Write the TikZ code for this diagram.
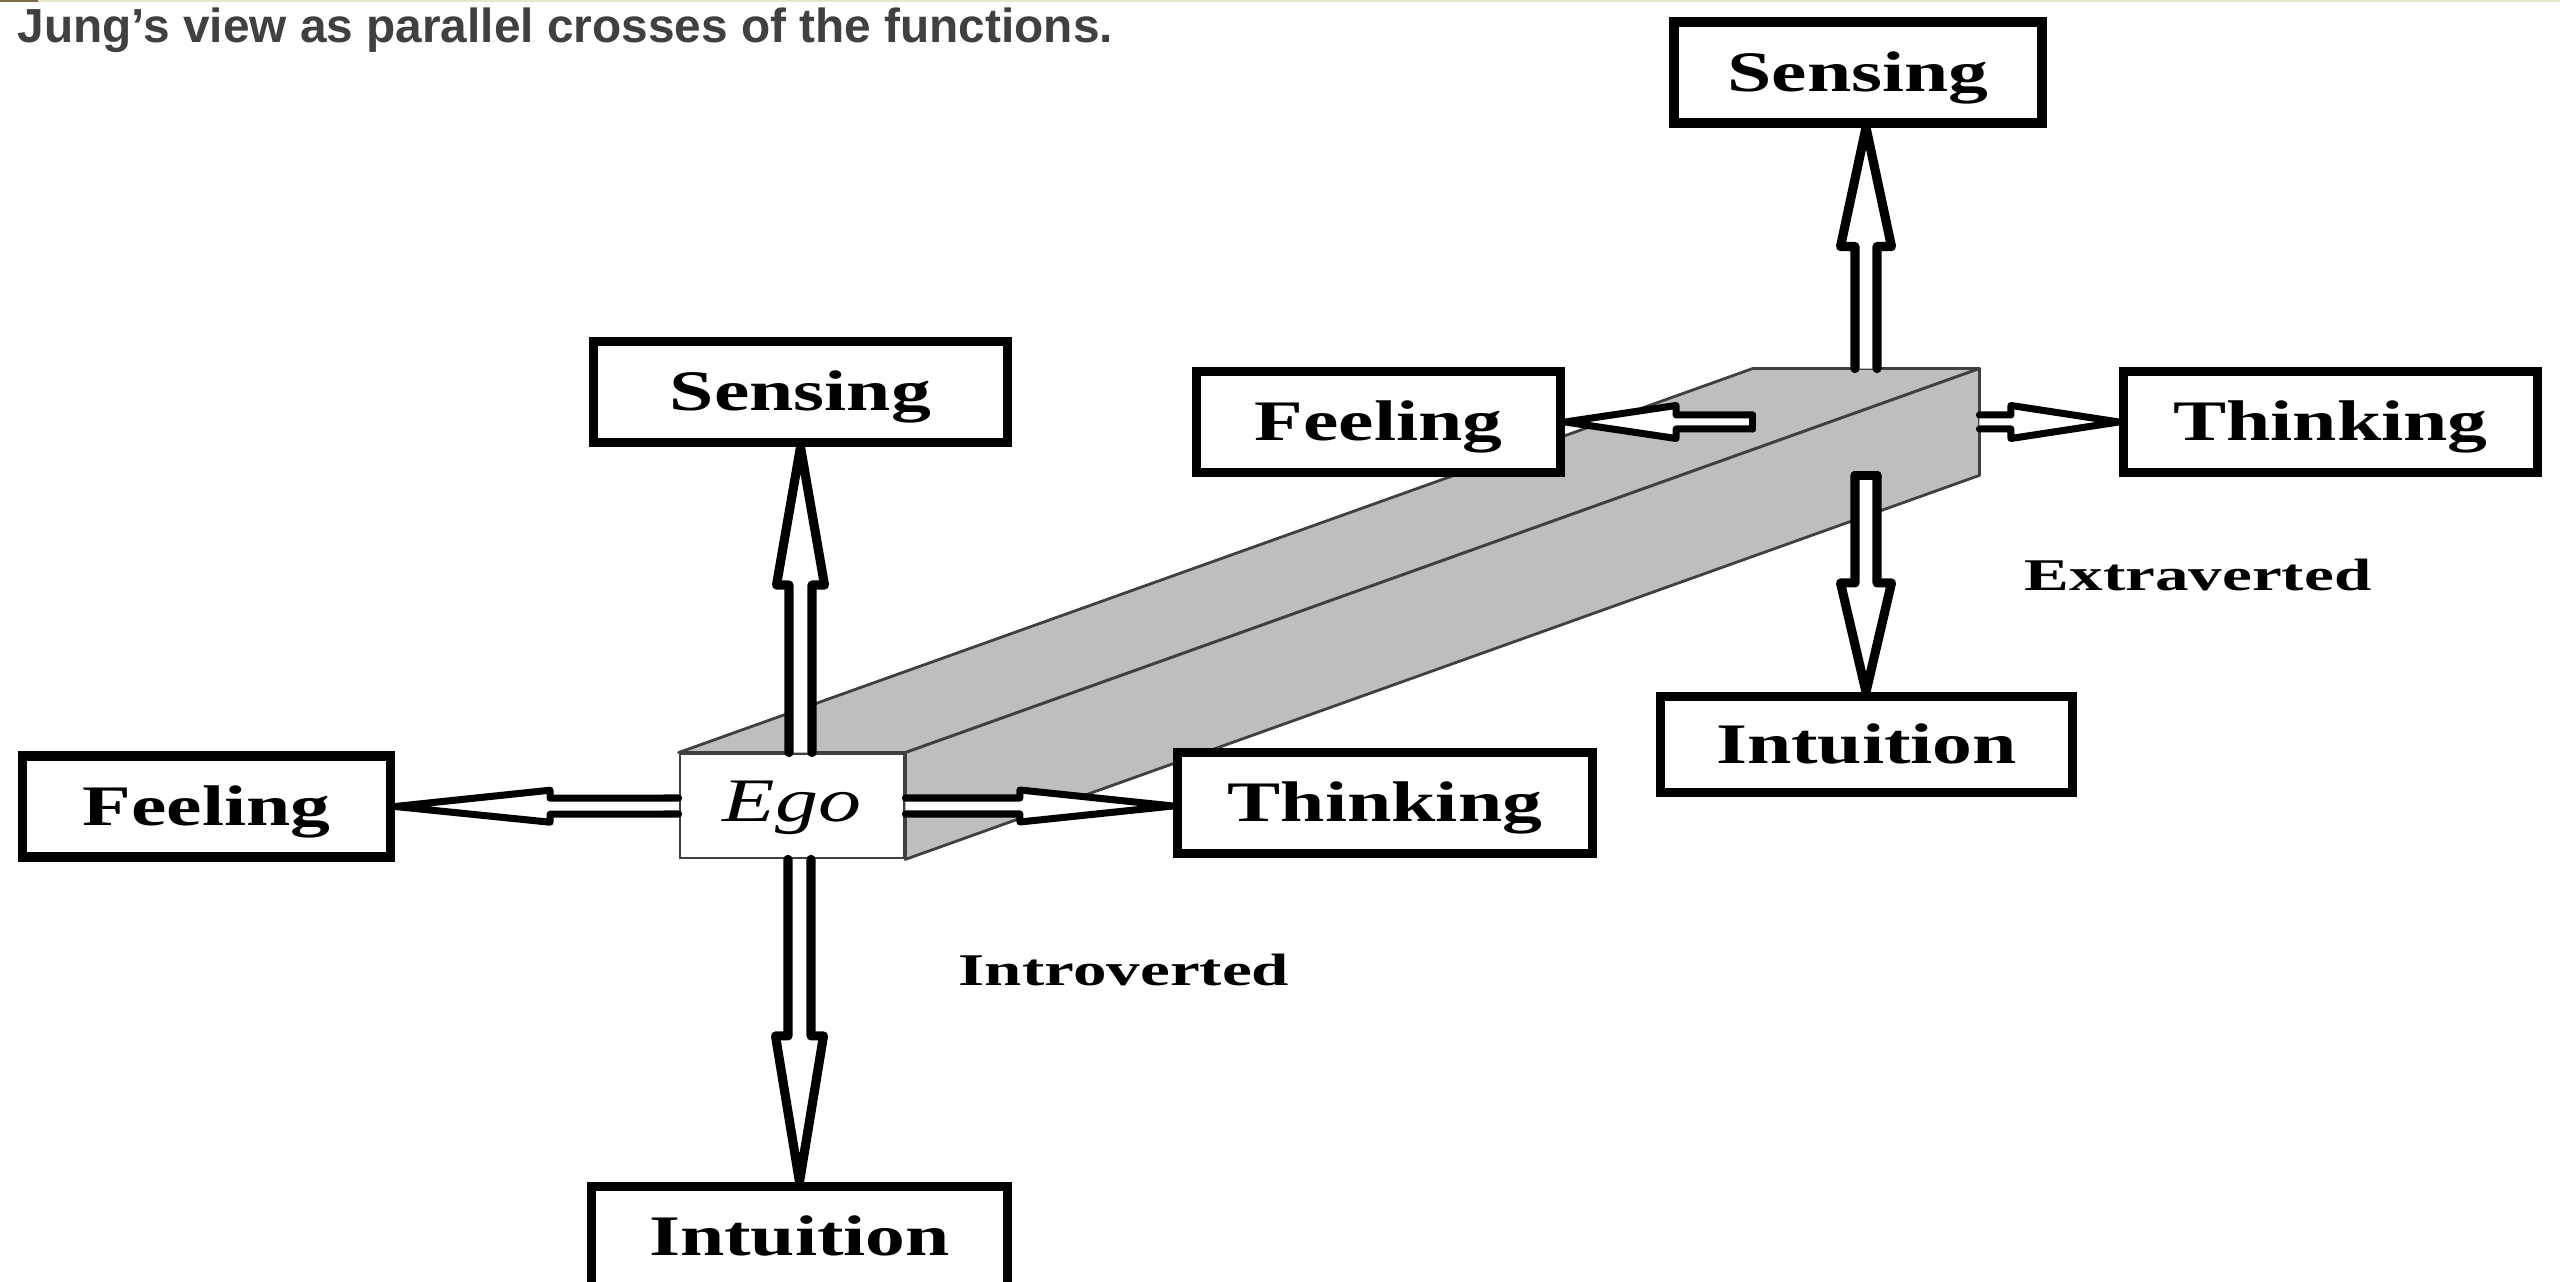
\documentclass[tikz,border=0pt]{standalone}
\usepackage{fontspec}
\setmainfont{Liberation Serif}
\newfontfamily\titlefont{Liberation Sans}
\usepackage{graphicx}
\usepackage{tikz}
\usetikzlibrary{calc,positioning,backgrounds}
\definecolor{bargray}{RGB}{190,190,190}
\definecolor{titlegray}{RGB}{64,64,64}
\definecolor{rulebrown}{RGB}{125,108,70}
\definecolor{rulepale}{RGB}{228,233,200}

% labels are set wider than the font
\newcommand{\widetext}[2]{\scalebox{#1}[1]{#2}}
% hollow arrow: style, from, to, shaft half width, head half width, head length
\newcommand{\hollowarrow}[6]{%
  \coordinate (hb) at ($(#3)!#6!(#2)$);
  \fill[white] ($(#2)!#4!90:(#3)$) -- ($(hb)!#4!90:(#3)$) -- ($(hb)!#5!90:(#3)$) -- (#3)
    -- ($(hb)!#5!-90:(#3)$) -- ($(hb)!#4!-90:(#3)$) -- ($(#2)!#4!-90:(#3)$) -- cycle;
  \draw[#1] ($(#2)!#4!90:(#3)$) -- ($(hb)!#4!90:(#3)$) -- ($(hb)!#5!90:(#3)$) -- (#3)
    -- ($(hb)!#5!-90:(#3)$) -- ($(hb)!#4!-90:(#3)$) -- ($(#2)!#4!-90:(#3)$);
}

\begin{document}
\begin{tikzpicture}
    \tikzstyle{fbox} = [draw=black, line width=2.6pt, fill=white, minimum height=1.01cm, inner sep=0pt, text height=0.38cm, text depth=0cm, font=\fontsize{16.3}{18}\selectfont\bfseries]
    \tikzstyle{ebox} = [draw=black!75, line width=0.8pt, fill=white, minimum width=2.24cm, minimum height=1.04cm, inner sep=0pt, text height=0.41cm, text depth=0.1cm, font=\fontsize{17.6}{20}\selectfont\itshape]
    \tikzstyle{tag} = [inner sep=0pt, font=\fontsize{12.9}{15}\selectfont\bfseries]
    \tikzstyle{vfat} = [line width=2.6pt, line join=round, line cap=round]
    \tikzstyle{hfat} = [line width=2.0pt, line join=round, line cap=round]
    \tikzstyle{edge} = [draw=black!75, line width=0.8pt, fill=bargray, line join=round]

    \useasboundingbox (0,0) rectangle (25.6,12.82);
    \fill[rulebrown] (0,12.80) rectangle (0.38,12.82);
    \fill[rulepale] (0.38,12.80) rectangle (25.6,12.82);

    \node[anchor=base west, inner sep=0pt, text=titlegray, font=\titlefont\fontsize{13.6}{16}\selectfont\bfseries] (title) at (0.17,12.39) {Jung’s view as parallel crosses of the functions.};

    % introverted cross
    \node[ebox] (ego) at (7.92,4.76) {\widetext{1.39}{Ego}};
    \node[fbox, minimum width=4.14cm] (sensL) at (8.005,8.90) {\widetext{1.39}{Sensing}};
    \node[fbox, minimum width=3.68cm] (feelL) at (2.065,4.755) {\widetext{1.39}{Feeling}};
    \node[fbox, minimum width=4.15cm] (thinkM) at (13.85,4.79) {\widetext{1.39}{Thinking}};
    \node[fbox, minimum width=4.16cm] (intuL) at (7.995,0.45) {\widetext{1.39}{Intuition}};
    \node[tag] (intro) at (11.24,3.12) {\widetext{1.48}{Introverted}};

    % extraverted cross
    \node[fbox, minimum width=3.68cm] (sensR) at (18.58,12.095) {\widetext{1.39}{Sensing}};
    \node[fbox, minimum width=3.64cm] (feelR) at (13.785,8.60) {\widetext{1.39}{Feeling}};
    \node[fbox, minimum width=4.14cm] (thinkR) at (23.305,8.60) {\widetext{1.39}{Thinking}};
    \node[fbox, minimum width=4.12cm, minimum height=0.96cm] (intuR) at (18.665,5.375) {\widetext{1.39}{Intuition}};
    \node[tag] (extra) at (21.98,7.07) {\widetext{1.48}{Extraverted}};

    % the bar
    \coordinate (rc) at ($(ego)+(10.74,3.84)$);
    \coordinate (bnw) at ($(ego.north west)+(10.74,3.84)$);
    \coordinate (bne) at ($(ego.north east)+(10.74,3.84)$);
    \coordinate (bse) at ($(ego.south east)+(10.74,3.84)$);
    \begin{pgfonlayer}{background}
      \draw[edge] (ego.north west) -- (bnw) -- (bne) -- (ego.north east) -- cycle;
      \draw[edge] (ego.north east) -- (bne) -- (bse) -- (ego.south east) -- cycle;
    \end{pgfonlayer}

    % arrows of the introverted cross
    \coordinate (lup) at (sensL.south |- ego.north);
    \coordinate (ldn) at (intuL.north |- ego.south);
    \coordinate (lrt) at (thinkM.west |- ego.east);
    \hollowarrow{vfat}{lup}{sensL.south}{0.115cm}{0.24cm}{1.38cm}
    \hollowarrow{vfat}{ldn}{intuL.north}{0.115cm}{0.24cm}{1.46cm}
    \hollowarrow{hfat}{ego.west}{feelL.east}{0.08cm}{0.16cm}{1.55cm}
    \hollowarrow{hfat}{ego.east}{lrt}{0.08cm}{0.16cm}{1.53cm}

    % arrows of the extraverted cross
    \coordinate (rup) at (rc |- bnw);
    \coordinate (rdn) at (rc |- bse);
    \coordinate (rlf) at (bnw |- rc);
    \coordinate (rrt) at (bne |- rc);
    \coordinate (rupt) at (rc |- sensR.south);
    \coordinate (rdnt) at (rc |- intuR.north);
    \coordinate (rlft) at (feelR.east |- rc);
    \coordinate (rrtt) at (thinkR.west |- rc);
    \hollowarrow{vfat}{rup}{rupt}{0.11cm}{0.255cm}{1.19cm}
    \hollowarrow{vfat}{rdn}{rdnt}{0.11cm}{0.255cm}{1.09cm}
    \draw[vfat] ($(rdn)!0.11cm!90:(rdnt)$) -- ($(rdn)!0.11cm!-90:(rdnt)$);
    \hollowarrow{hfat}{rlf}{rlft}{0.07cm}{0.165cm}{1.11cm}
    \draw[hfat] ($(rlf)!0.07cm!90:(rlft)$) -- ($(rlf)!0.07cm!-90:(rlft)$);
    \hollowarrow{hfat}{rrt}{rrtt}{0.07cm}{0.165cm}{1.08cm}
\end{tikzpicture}
\end{document}
